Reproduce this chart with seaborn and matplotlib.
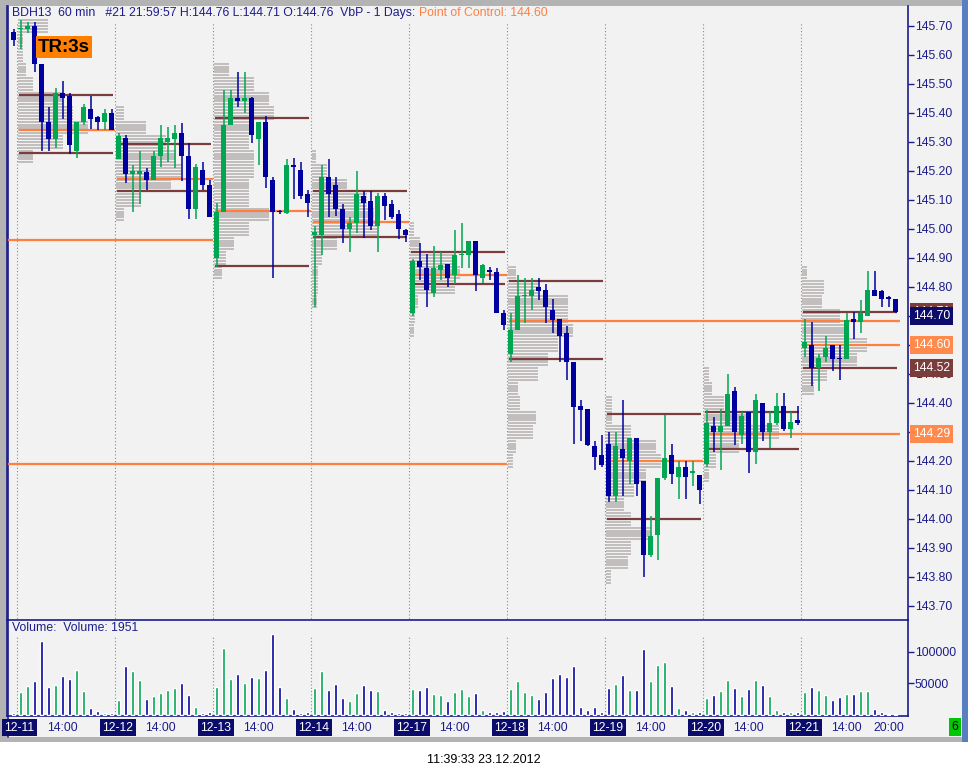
import numpy as np
import pandas as pd
import matplotlib
matplotlib.use("Agg")
import matplotlib.pyplot as plt
import matplotlib.transforms as mtransforms
from matplotlib.patches import Rectangle
from matplotlib.lines import Line2D
import seaborn as sns

# -----------------------------
# Data (60 min bars, BDH13)
# -----------------------------
days = ["12-11", "12-12", "12-13", "12-14", "12-17", "12-18", "12-19", "12-20", "12-21"]

# first bar is the last bar of the day before 12-11, then 14 bars per day
opens = [145.68,
         145.69, 145.69, 145.70, 145.57, 145.37, 145.31, 145.47, 145.46, 145.27, 145.37, 145.415, 145.385, 145.37, 145.40,
         145.24, 145.315, 145.19, 145.19, 145.195, 145.17, 145.25, 145.30, 145.31, 145.33, 145.25, 145.07, 145.205, 145.15,
         144.90, 145.06, 145.36, 145.45, 145.44, 145.45, 145.31, 145.37, 145.17, 145.06, 145.055, 145.22, 145.205, 145.12,
         144.98, 144.98, 145.18, 145.15, 145.07, 145.00, 145.02, 145.115, 145.095, 145.01, 145.115, 145.085, 145.05, 144.995,
         144.71, 144.89, 144.865, 144.78, 144.86, 144.88, 144.84, 144.91, 144.91, 144.96, 144.83, 144.86, 144.85, 144.71,
         144.57, 144.65, 144.77, 144.77, 144.80, 144.79, 144.72, 144.69, 144.64, 144.54, 144.39, 144.38, 144.25, 144.22,
         144.26, 144.08, 144.24, 144.20, 144.28, 144.13, 143.875, 143.945, 144.14, 144.22, 144.145, 144.18, 144.16, 144.15,
         144.19, 144.32, 144.30, 144.32, 144.44, 144.29, 144.37, 144.23, 144.40, 144.30, 144.33, 144.39, 144.31, 144.34,
         144.59, 144.60, 144.52, 144.56, 144.60, 144.552, 144.55, 144.69, 144.68, 144.70, 144.79, 144.785, 144.761, 144.76]

highs = [145.69,
         145.72, 145.715, 145.715, 145.57, 145.42, 145.485, 145.51, 145.47, 145.37, 145.43, 145.46, 145.39, 145.415, 145.415,
         145.33, 145.325, 145.22, 145.27, 145.21, 145.27, 145.36, 145.35, 145.36, 145.365, 145.295, 145.225, 145.23, 145.17,
         145.09, 145.48, 145.48, 145.54, 145.54, 145.455, 145.37, 145.39, 145.18, 145.065, 145.24, 145.245, 145.23, 145.135,
         145.01, 145.22, 145.24, 145.18, 145.085, 145.04, 145.20, 145.13, 145.13, 145.125, 145.125, 145.10, 145.065, 145.00,
         144.895, 144.95, 144.915, 144.94, 144.92, 144.88, 144.995, 145.02, 144.96, 144.96, 144.88, 144.87, 144.865, 144.72,
         144.71, 144.84, 144.83, 144.83, 144.83, 144.81, 144.76, 144.69, 144.665, 144.54, 144.41, 144.38, 144.27, 144.29,
         144.30, 144.30, 144.41, 144.28, 144.28, 144.13, 144.01, 144.14, 144.36, 144.26, 144.20, 144.20, 144.20, 144.15,
         144.375, 144.35, 144.38, 144.50, 144.455, 144.37, 144.37, 144.43, 144.40, 144.37, 144.435, 144.435, 144.37, 144.39,
         144.69, 144.68, 144.57, 144.63, 144.60, 144.60, 144.71, 144.715, 144.755, 144.855, 144.855, 144.79, 144.77, 144.76]

lows = [145.63,
        145.62, 145.675, 145.54, 145.27, 145.27, 145.28, 145.38, 145.26, 145.245, 145.36, 145.345, 145.34, 145.34, 145.34,
        145.24, 145.16, 145.06, 145.085, 145.135, 145.17, 145.215, 145.23, 145.21, 145.165, 145.035, 145.035, 145.135, 145.04,
        144.87, 145.06, 145.36, 145.42, 145.40, 145.295, 145.22, 145.14, 144.83, 145.05, 145.05, 145.105, 145.105, 145.04,
        144.73, 144.91, 145.04, 145.045, 144.95, 144.92, 144.985, 144.97, 144.995, 144.92, 145.03, 145.035, 144.965, 144.955,
        144.70, 144.825, 144.73, 144.765, 144.825, 144.80, 144.81, 144.865, 144.865, 144.785, 144.815, 144.825, 144.71, 144.65,
        144.54, 144.65, 144.675, 144.72, 144.755, 144.675, 144.64, 144.54, 144.48, 144.26, 144.27, 144.25, 144.17, 144.18,
        144.06, 144.06, 144.08, 144.12, 144.08, 143.80, 143.87, 143.86, 144.135, 144.12, 144.07, 144.07, 144.115, 144.05,
        144.18, 144.23, 144.17, 144.32, 144.255, 144.26, 144.16, 144.19, 144.27, 144.245, 144.325, 144.305, 144.28, 144.325,
        144.56, 144.46, 144.44, 144.54, 144.51, 144.48, 144.55, 144.62, 144.64, 144.70, 144.77, 144.73, 144.73, 144.71]

closes = [145.65,
          145.692, 145.70, 145.57, 145.37, 145.31, 145.47, 145.45, 145.29, 145.37, 145.42, 145.38, 145.37, 145.40, 145.34,
          145.32, 145.19, 145.20, 145.20, 145.17, 145.25, 145.315, 145.315, 145.33, 145.25, 145.07, 145.215, 145.15, 145.04,
          145.06, 145.36, 145.45, 145.44, 145.45, 145.325, 145.37, 145.18, 145.06, 145.057, 145.22, 145.215, 145.115, 145.09,
          144.99, 145.18, 145.12, 145.07, 145.00, 145.02, 145.12, 145.09, 145.01, 145.115, 145.08, 145.04, 145.00, 144.98,
          144.89, 144.87, 144.79, 144.865, 144.875, 144.83, 144.91, 144.912, 144.96, 144.84, 144.875, 144.85, 144.71, 144.67,
          144.65, 144.77, 144.772, 144.79, 144.785, 144.73, 144.685, 144.63, 144.54, 144.385, 144.375, 144.255, 144.215, 144.185,
          144.08, 144.25, 144.21, 144.28, 144.12, 143.875, 143.94, 144.14, 144.21, 144.155, 144.18, 144.145, 144.162, 144.10,
          144.33, 144.30, 144.32, 144.43, 144.30, 144.355, 144.23, 144.41, 144.30, 144.33, 144.39, 144.31, 144.335, 144.33,
          144.61, 144.52, 144.555, 144.59, 144.55, 144.55, 144.685, 144.68, 144.71, 144.79, 144.77, 144.76, 144.76, 144.715]

volumes = [3000,
           36600, 45700, 54300, 117000, 44600, 47300, 61800, 57000, 71500, 38200, 11800, 5900, 3800, 3800,
           23700, 78000, 69900, 55900, 25300, 29600, 34400, 39200, 42500, 50500, 31200, 13400, 3800, 5400,
           44100, 107000, 57000, 65000, 50500, 60200, 58600, 71500, 128000, 44100, 26300, 10200, 3800, 5400,
           42500, 69900, 39200, 48900, 26300, 21500, 34400, 47300, 39800, 37600, 8600, 5400, 3800, 3800,
           40900, 39200, 44100, 32800, 31200, 21500, 36000, 40900, 29600, 34400, 8600, 5400, 5400, 7000,
           40900, 53800, 36000, 31200, 24700, 36000, 58600, 65000, 60200, 78000, 13400, 8600, 13400, 5400,
           42500, 48900, 63400, 39200, 39200, 105000, 53800, 79600, 84400, 45700, 11800, 8600, 5400, 5400,
           26300, 31200, 37600, 55400, 42500, 29600, 40900, 55400, 47300, 29600, 8600, 5400, 5400, 5400,
           36000, 44100, 39200, 31200, 23100, 28000, 32800, 32800, 37600, 37600, 10200, 5400, 1500, 1951]

# value area high / point of control / value area low per day
vah = [145.463, 145.294, 145.384, 145.132, 144.922, 144.822, 144.363, 144.370, 144.713]
poc = [145.342, 145.172, 145.063, 145.023, 144.841, 144.683, 144.201, 144.292, 144.601]
val = [145.262, 145.132, 144.873, 144.973, 144.810, 144.553, 144.001, 144.242, 144.522]
poc_naked = [False, False, False, False, False, True, False, True, True]
old_pocs = [144.963, 144.190]          # from days before 12-11
old_poc_end = ["12-13", "12-18"]

# volume profile per day (price level, length in 1/7 bar units)
prof_prices = [
    [145.70, 145.65, 145.60, 145.55, 145.50, 145.45, 145.40, 145.35, 145.30, 145.25],
    [145.40, 145.35, 145.30, 145.25, 145.20, 145.15, 145.10, 145.05],
    [145.55, 145.50, 145.45, 145.40, 145.35, 145.30, 145.25, 145.20, 145.15, 145.10, 145.05, 145.00, 144.95, 144.90, 144.85],
    [145.25, 145.20, 145.15, 145.10, 145.05, 145.00, 144.95, 144.90, 144.85, 144.80, 144.75],
    [145.00, 144.95, 144.90, 144.85, 144.80, 144.75, 144.70, 144.65],
    [144.85, 144.80, 144.75, 144.70, 144.65, 144.60, 144.55, 144.50, 144.45, 144.40, 144.35, 144.30, 144.25, 144.20],
    [144.40, 144.35, 144.30, 144.25, 144.20, 144.15, 144.10, 144.05, 144.00, 143.95, 143.90, 143.85, 143.80],
    [144.50, 144.45, 144.40, 144.35, 144.30, 144.25, 144.20, 144.15],
    [144.85, 144.80, 144.75, 144.70, 144.65, 144.60, 144.55, 144.50, 144.45],
]
prof_len = [
    [30, 5, 5, 8, 15, 45, 55, 70, 45, 15],
    [8, 30, 50, 60, 65, 55, 25, 8],
    [15, 40, 55, 60, 40, 35, 40, 40, 35, 35, 55, 35, 20, 12, 8],
    [4, 15, 35, 55, 62, 65, 25, 10, 6, 6, 5],
    [4, 10, 45, 50, 45, 8, 5, 4],
    [8, 30, 60, 60, 65, 50, 40, 30, 10, 12, 28, 25, 8, 5],
    [6, 6, 25, 50, 55, 40, 28, 18, 25, 45, 25, 22, 5],
    [5, 8, 20, 45, 75, 35, 12, 5],
    [5, 22, 20, 38, 42, 65, 55, 25, 12],
]

price_ticks = [143.70, 143.80, 143.90, 144.00, 144.10, 144.20, 144.30, 144.40, 144.50, 144.60,
               144.70, 144.80, 144.90, 145.00, 145.10, 145.20, 145.30, 145.40, 145.50, 145.60, 145.70]
hidden_ticks = [144.30, 144.60, 144.70]   # covered by the value boxes
vol_ticks = [50000, 100000]
hour_labels = ["14:00", "20:00"]

# -----------------------------
# Style
# -----------------------------
sns.set_style("white")
plt.rcParams["font.family"] = ["Liberation Sans", "DejaVu Sans"]

NAVY = "#1c1c8c"
NAVY_BOX = "#0b0b6b"
UP = "#00a651"
DOWN = "#0000a0"
ORANGE = "#ff7f3f"
BROWN = "#7b3c3c"
PROF = "#c2bebe"
BG = "#f2f2f2"

W, H = 968, 777
fig = plt.figure(figsize=(W / 100, H / 100), dpi=100)
fig.patch.set_facecolor("white")


def frect(x0, y0, x1, y1, color, z=-5):
    fig.add_artist(Rectangle((x0 / W, 1 - y1 / H), (x1 - x0) / W, (y1 - y0) / H,
                             transform=fig.transFigure, facecolor=color, edgecolor="none", zorder=z))


frect(0, 0, 962, 742, "#b3b3b3")
frect(962, 0, 968, 742, "#5a7fc0")
frect(7, 6, 962, 737, BG)
fig.add_artist(Line2D([7.5 / W, 7.5 / W], [1 - 6 / H, 1 - 737 / H], transform=fig.transFigure,
                      color=NAVY, lw=1.2, zorder=-4))

n = len(opens)
idx = np.arange(n)
o = np.array(opens)
h = np.array(highs)
l = np.array(lows)
c = np.array(closes)
up = c > o
XMIN, XMAX = (7 - 13.7) / 7, (908 - 13.7) / 7

ax_p = fig.add_axes([7 / W, 1 - 620 / H, 901 / W, 614 / H])
ax_v = fig.add_axes([7 / W, 1 - 716 / H, 901 / W, 96 / H])
for ax in (ax_p, ax_v):
    ax.set_facecolor("none")
    ax.set_xlim(XMIN, XMAX)
    for s in ax.spines.values():
        s.set_color(NAVY)
        s.set_linewidth(1.2)

# -----------------------------
# Price panel
# -----------------------------
ax_p.set_ylim(145.70 - 594 / 290, 145.70 + 20 / 290)
ax_p.spines["top"].set_visible(False)
ax_p.spines["bottom"].set_visible(False)

day_start = [14 * d + 0.5 for d in range(len(days))]
ax_p.vlines(day_start, 143.60, 145.714, colors="#8a8a8a", linestyles=(0, (1, 2)), lw=0.8, zorder=0.5)

# volume profiles, drawn as thin rows like the platform does
for d in range(len(days)):
    lens = np.array(prof_len[d]) / 7
    for off in (-0.02, -0.01, 0.0, 0.01, 0.02):
        ax_p.barh(np.array(prof_prices[d]) + off, lens, left=day_start[d] + 0.15, height=0.0075,
                  color=PROF, edgecolor="none", align="center", zorder=1)

# value area and point of control lines
for d in range(len(days)):
    s = day_start[d] + 0.2
    e = 126.2 if d == len(days) - 1 else 14 * d + 14.2
    ax_p.hlines([vah[d], val[d]], s, e, colors=BROWN, lw=1.6, zorder=2)
    pe = 126.6 if poc_naked[d] else 14 * d + 14.5
    ax_p.hlines(poc[d], s, pe, colors=ORANGE, lw=1.6, zorder=2)
for p, dname in zip(old_pocs, old_poc_end):
    ax_p.hlines(p, XMIN, day_start[days.index(dname)], colors=ORANGE, lw=1.6, zorder=2)

# candles
colors = np.where(up, UP, DOWN)
ax_p.vlines(idx, l, h, colors=colors, lw=1.1, zorder=3)
body = np.maximum(np.abs(c - o), 0.004)
ax_p.bar(idx, body, bottom=np.minimum(o, c), width=0.68, color=colors, edgecolor="none", zorder=4)

ax_p.yaxis.tick_right()
ax_p.set_yticks(price_ticks)
ax_p.set_yticklabels(["" if t in hidden_ticks else f"{t:.2f}" for t in price_ticks])
ax_p.tick_params(axis="y", colors=NAVY, labelcolor=NAVY, length=4, width=1, pad=1, labelsize=8.8)
ax_p.set_xticks([])

# right side value boxes
ytr = mtransforms.blended_transform_factory(ax_p.transAxes, ax_p.transData)
xlab = (913 - 7) / 901
for val_, txt, fc, z in [(vah[-1], "144.71", BROWN, 5), (144.70, "144.70", NAVY_BOX, 6),
                         (poc[-1], "144.60", "#ff8a4c", 6), (val[-1], "144.52", BROWN, 6),
                         (poc[-2], "144.29", "#ff8a4c", 6)]:
    ax_p.text(xlab, val_, txt, transform=ytr, ha="left", va="center", color="white", fontsize=8.8,
              clip_on=False, zorder=z,
              bbox=dict(boxstyle="square,pad=0.25", facecolor=fc, edgecolor="none"))

# -----------------------------
# Volume panel
# -----------------------------
vol_df = pd.DataFrame({"idx": idx, "vol": volumes, "dir": np.where(up, "up", "down")})
sns.barplot(data=vol_df, x="idx", y="vol", hue="dir", palette={"up": UP, "down": DOWN},
            native_scale=True, width=0.45, dodge=False, errorbar=None, legend=False,
            saturation=1, ax=ax_v, zorder=3)
ax_v.set_xlim(XMIN, XMAX)
ax_v.set_ylim(-1600, 150800)
ax_v.vlines(day_start, 0, 125000, colors="#8a8a8a", linestyles=(0, (1, 2)), lw=0.8, zorder=0.5)
ax_v.set_xlabel("")
ax_v.set_ylabel("")
ax_v.yaxis.tick_right()
ax_v.set_yticks(vol_ticks)
ax_v.set_yticklabels([str(v) for v in vol_ticks])
ax_v.tick_params(axis="y", colors=NAVY, labelcolor=NAVY, length=4, width=1, pad=1, labelsize=8.8)
hour_pos = [14 * d + 1 for d in range(len(days))] + [14 * d + 7 for d in range(len(days))]
ax_v.set_xticks(hour_pos)
ax_v.set_xticklabels([])
ax_v.tick_params(axis="x", colors=NAVY, length=3, width=1)

xtr = mtransforms.blended_transform_factory(ax_v.transData, ax_v.transAxes)
for d, name in enumerate(days):
    ax_v.text(14 * d + 0.85, -0.12, name, transform=xtr, ha="center", va="center", color="white",
              fontsize=8.8, clip_on=False,
              bbox=dict(boxstyle="square,pad=0.2", facecolor=NAVY_BOX, edgecolor="none"))
    ax_v.text(14 * d + 7, -0.12, hour_labels[0], transform=xtr, ha="center", va="center",
              color=NAVY, fontsize=8.8, clip_on=False)
ax_v.text(125, -0.12, hour_labels[1], transform=xtr, ha="center", va="center",
          color=NAVY, fontsize=8.8, clip_on=False)

# -----------------------------
# Texts
# -----------------------------
fig.text(12 / W, 1 - 13 / H, "BDH13  60 min   #21 21:59:57 H:144.76 L:144.71 O:144.76  VbP - 1 Days:",
         color=NAVY, fontsize=8.8, va="center", ha="left")
fig.text(419 / W, 1 - 13 / H, "Point of Control: 144.60", color=ORANGE, fontsize=8.8, va="center", ha="left")
fig.text(38 / W, 1 - 47 / H, "TR:3s", color="black", fontsize=13.5, fontweight="bold", va="center", ha="left",
         bbox=dict(boxstyle="square,pad=0.12", facecolor="#ff8000", edgecolor="none"))
fig.text(12 / W, 1 - 628 / H, "Volume:  Volume: 1951", color=NAVY, fontsize=8.8, va="center", ha="left")
fig.text(955 / W, 1 - 727 / H, "6", color="black", fontsize=8.8, va="center", ha="center",
         bbox=dict(boxstyle="square,pad=0.25", facecolor="#00c800", edgecolor="none"))
fig.text(484 / W, 1 - 760 / H, "11:39:33 23.12.2012", color="black", fontsize=9, va="center", ha="center")

fig.savefig("out.png", dpi=100, facecolor="white")
